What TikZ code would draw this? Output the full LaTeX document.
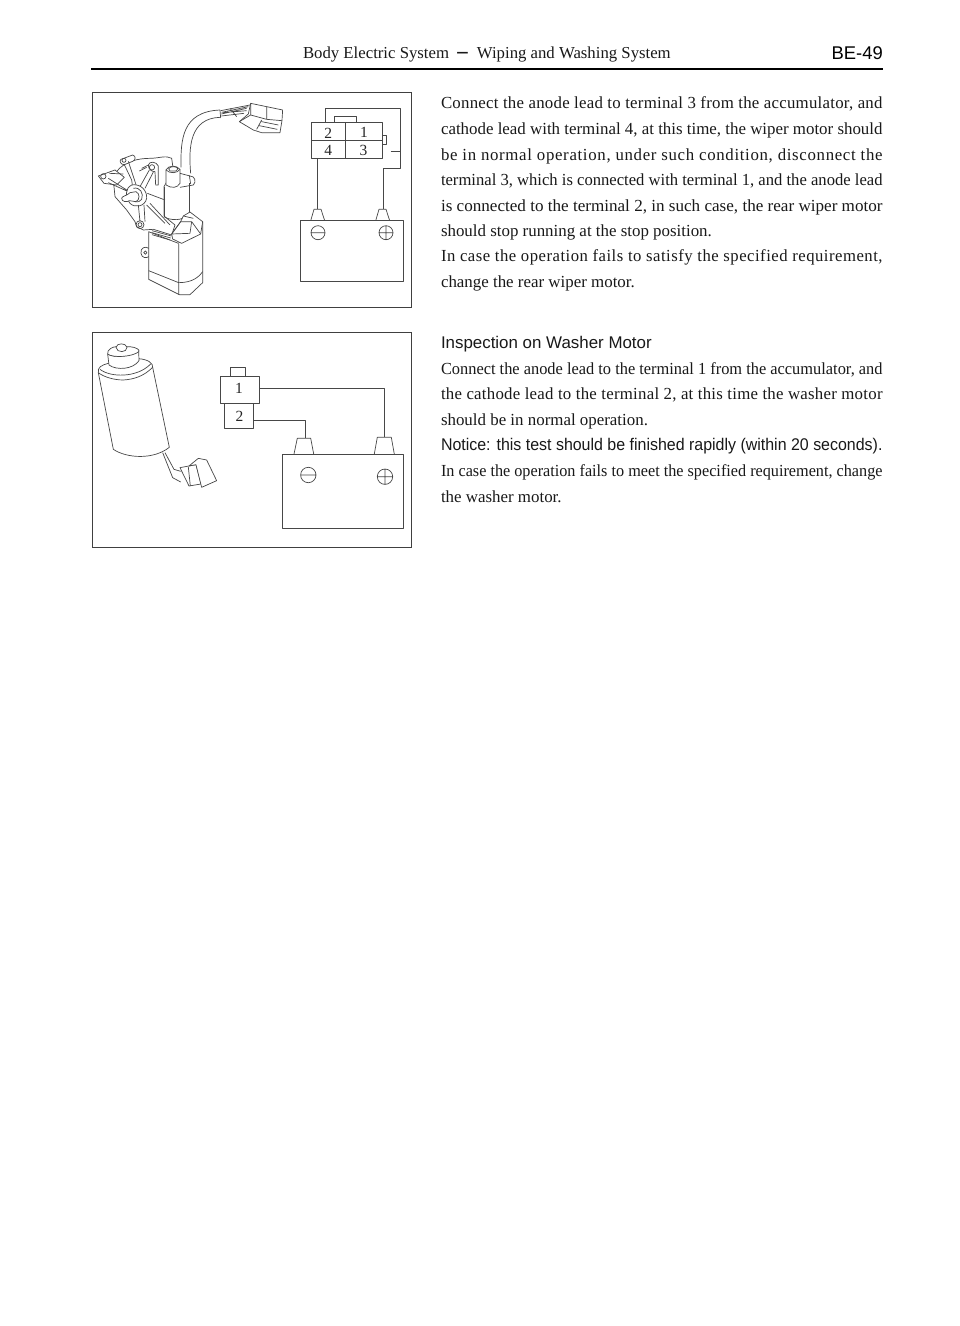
\documentclass[tikz,border=0pt]{standalone}
\usepackage{fontspec}
\usepackage{graphicx}
\setmainfont{Liberation Serif}
\newfontfamily\arial{Liberation Sans}
\tikzset{
 ln/.style={draw=black!72,line width=0.7pt,line join=round},
 wl/.style={ln,fill=white},
 framebox/.style={draw=black!75,line width=1pt},
 tx/.style={anchor=base west,inner sep=0pt,outer sep=0pt,font=\fontsize{16.9}{20}\selectfont,text=black!90},
 hx/.style={tx,font=\arial\fontsize{16.9}{20}\selectfont},
 lab/.style={inner sep=0pt,font=\fontsize{15.5}{18}\selectfont,text=black!85},
}
\newcommand{\jl}[1]{\resizebox{441.5pt}{\height}{#1}}
\newcommand{\ls}[2]{\resizebox{441.5pt}{\height}{\addfontfeature{LetterSpace=#1}#2}}
\begin{document}
\begin{tikzpicture}[x=1pt,y=-1pt]
\useasboundingbox (0,0) rectangle (960,1326);
\fill[white] (0,0) rectangle (960,1326);
% header
\node[tx,font=\fontsize{16.75}{20}\selectfont] (hd) at (303,58.5) {Body Electric System\hspace{7pt}\raisebox{-2pt}{\arial\fontsize{22}{22}\selectfont −}\hspace{8pt}Wiping and Washing System};
\node[anchor=base east,inner sep=0pt,font=\arial\fontsize{18.4}{20}\selectfont] (pg) at (883,59) {BE-49};
\draw[black,line width=1.7pt] (91,69) -- (883,69);
% frames
\node[framebox,minimum width=319pt,minimum height=215pt,inner sep=0pt,anchor=north west] (f1) at (92,92) {};
\node[framebox,minimum width=319pt,minimum height=215pt,inner sep=0pt,anchor=north west] (f2) at (92,332) {};
% text 1
\node[tx] (a1) at (441,108.8) {\ls{1.5}{Connect the anode lead to terminal 3 from the accumulator, and}};
\node[tx] (a2) at (441,134.5) {\jl{cathode lead with terminal 4, at this time, the wiper motor should}};
\node[tx] (a3) at (441,160.1) {\ls{4}{be in normal operation, under such condition, disconnect the}};
\node[tx] (a4) at (441,185.5) {\jl{terminal 3, which is connected with terminal 1, and the anode lead}};
\node[tx] (a5) at (441,211.2) {\jl{is connected to the terminal 2, in such case, the rear wiper motor}};
\node[tx] (a6) at (441,236.3) {should stop running at the stop position.};
\node[tx] (a7) at (441,261.5) {\ls{3}{In case the operation fails to satisfy the specified requirement,}};
\node[tx] (a8) at (441,287.5) {change the rear wiper motor.};
% text 2
\node[hx] (b0) at (441,348.8) {Inspection on Washer Motor};
\node[tx] (b1) at (441,374.5) {\jl{Connect the anode lead to the terminal 1 from the accumulator, and}};
\node[tx] (b2) at (441,399.8) {\ls{1.5}{the cathode lead to the terminal 2, at this time the washer motor}};
\node[tx] (b3) at (441,425.5) {should be in normal operation.};
\node[hx] (b4) at (441,450.5) {\jl{Notice: this test should be finished rapidly (within 20 seconds).}};
\node[tx] (b5) at (441,476.2) {\jl{In case the operation fails to meet the specified requirement, change}};
\node[tx] (b6) at (441,502) {the washer motor.};
% circuit 1
\draw[ln] (311.7,122.3) rectangle (382.7,158.3);
\draw[ln] (345.7,122.3) -- (345.7,158.3) (311.7,140.7) -- (382.7,140.7);
\draw[ln] (334.3,122.3) -- (334.3,116.7) -- (356,116.7) -- (356,122.3);
\draw[ln] (382.7,135) -- (386.7,135) -- (386.7,144.3) -- (382.7,144.3);
\node[lab] (n2) at (328.3,133) {2};
\node[lab] (n1) at (364,132.5) {1};
\node[lab] (n4) at (328.3,150.5) {4};
\node[lab] (n3) at (363.5,150.5) {3};
\coordinate (t1l) at (317.7,209.3); \coordinate (t1r) at (383.7,209.3);
\draw[ln] (325.7,122.3) -- (325.7,108.3) -- (400.7,108.3) -- (400.7,168.3) -- (383.7,168.3) -- (t1r);
\draw[ln] (390.7,151.7) -- (400.7,151.7);
\draw[ln] (317.7,158.3) -- (t1l);
\draw[ln] (300.7,220.7) rectangle (403,281);
\draw[ln] (310.7,220.7) -- (314,209.3) -- (321,209.3) -- (324.7,220.7);
\draw[ln] (375.7,220.7) -- (379,209.3) -- (386,209.3) -- (389.7,220.7);
\draw[ln] (318,232.7) circle (7) (311,232.7) -- (325,232.7);
\draw[ln] (386,232.7) circle (7) (379,232.7) -- (393,232.7) (386,225.7) -- (386,239.7);
% circuit 2
\draw[ln] (220,376.3) rectangle (259.7,403.3);
\draw[ln] (224.7,403.3) rectangle (253.7,428.7);
\draw[ln] (230.7,376.3) -- (230.7,367.3) -- (245.7,367.3) -- (245.7,376.3);
\node[lab] (m1) at (239,388.5) {1};
\node[lab] (m2) at (239.5,416) {2};
\draw[ln] (259.7,388.3) -- (384.7,388.3) -- (384.7,437.3);
\draw[ln] (253.7,420.3) -- (305.3,420.3) -- (305.3,438.3);
\draw[ln] (282.7,454) rectangle (403.7,528);
\draw[ln] (294,454) -- (297.3,438.3) -- (310.7,438.3) -- (313.7,454);
\draw[ln] (374.3,454) -- (377.3,437.3) -- (391.3,437.3) -- (394.3,454);
\draw[ln] (308.3,475) circle (7.7) (300.6,475) -- (316,475);
\draw[ln] (385,476.7) circle (7.7) (377.3,476.7) -- (392.7,476.7) (385,469) -- (385,484.4);
% washer motor, in crop coordinates
\begin{scope}[shift={(90,330)},x=0.3333pt,y=-0.3333pt]
\draw[wl] (25,128) -- (70,358) .. controls (110,385) and (190,390) .. (238,352) -- (188,112);
\draw[wl] (25,128) .. controls (22,112) and (35,105) .. (55,100) -- (145,86) .. controls (175,88) and (190,100) .. (188,112) .. controls (160,140) and (130,148) .. (100,150) .. controls (70,150) and (40,140) .. (25,128) -- cycle;
\draw[ln] (30,118) .. controls (60,142) and (140,145) .. (182,102);
\draw[wl] (53,72) -- (57,105) .. controls (80,122) and (130,118) .. (147,92) -- (146,60) .. controls (125,80) and (70,85) .. (53,72) -- cycle;
\draw[wl] (53,72) .. controls (50,58) and (70,50) .. (78,50) -- (120,50) .. controls (140,52) and (150,60) .. (146,65) .. controls (130,80) and (70,85) .. (53,72) -- cycle;
\draw[wl] (78,52) .. controls (80,38) and (108,38) .. (111,52) .. controls (112,68) and (80,70) .. (78,52) -- cycle;
\draw[ln] (218,368) -- (248,443) -- (272,456);
\draw[ln] (225,368) -- (252,418) -- (272,424);
\draw[wl] (270,413) -- (297,468) -- (333,462) -- (318,404) -- cycle;
\draw[wl] (297,408) -- (325,385) -- (350,390) -- (380,452) -- (335,472) -- (318,404) -- cycle;
\draw[ln] (295,411) -- (301,468);
\end{scope}
% wiper motor, in crop coordinates
\begin{scope}[shift={(90,90)},x=0.3333pt,y=-0.3333pt]
% cable
\draw[ln] (273,232) .. controls (272,150) and (275,65) .. (390,60);
\draw[ln] (302,250) .. controls (295,170) and (300,85) .. (390,82);
\draw[ln] (390,60) -- (392,84);
\draw[ln] (392,62) -- (480,45) (394,72) -- (470,55) (394,78) -- (462,70) (400,68) -- (470,62) (420,55) -- (440,80) (395,67) -- (475,50);
% plug
\draw[wl] (482,40) -- (578,60) -- (576,92) -- (570,128) -- (515,128) -- (490,120) -- (448,95) -- (475,72) -- cycle;
\draw[ln] (530,50) -- (530,88) -- (576,92) (482,40) -- (482,75) -- (530,88) (482,75) -- (448,95) (515,90) -- (500,118) (515,95) -- (565,105) (508,107) -- (562,118);
% lower body
\draw[wl] (176,425) -- (176,568) -- (268,614) -- (300,614) -- (338,578) -- (338,395) -- (265,460) -- cycle;
\draw[ln] (176,542) -- (266,578) (266,578) .. controls (290,578) and (320,572) .. (338,545) (266,462) -- (266,614);
\draw[ln] (176,475) .. controls (168,468) and (150,472) .. (153,490) .. controls (155,505) and (170,505) .. (176,500);
\draw[ln] (166,488) circle (5);
% gearbox
\draw[wl] (72,290) .. controls (60,250) and (100,205) .. (180,205) .. controls (205,205) and (230,195) .. (245,205) -- (250,240) -- (222,290) -- (222,378) -- (255,405) -- (245,435) -- (190,418) -- (160,420) -- (140,410) -- (135,395) -- (110,360) -- (75,320) -- cycle;
\draw[wl] (25,258) -- (75,240) -- (103,262) -- (80,285) -- (42,280) -- cycle;
\draw[ln] (40,259) circle (8);
\draw[ln] (55,265) -- (118,305) (55,278) -- (115,305) (58,250) -- (100,252);
\draw[wl] (93,208) -- (128,195) .. controls (138,198) and (138,210) .. (128,214) -- (103,224) .. controls (90,224) and (88,212) .. (93,208) -- cycle;
\draw[ln] (102,211) circle (6);
\draw[ln] (103,224) -- (125,270) -- (128,292) (115,214) -- (140,290);
\draw[wl] (175,225) .. controls (178,212) and (200,215) .. (205,228) -- (205,285) -- (197,285) -- (195,245) .. controls (185,245) and (175,238) .. (175,225) -- cycle;
\draw[ln] (186,232) circle (8);
\draw[ln] (178,240) -- (150,290) (190,246) -- (165,295);
\draw[ln] (155,235) -- (175,225) (148,243) -- (170,232);
% hub
\draw[wl] (125,285) .. controls (150,280) and (172,300) .. (170,325) .. controls (165,350) and (135,355) .. (120,340) .. controls (105,320) and (105,295) .. (125,285) -- cycle;
\draw[ln] (130,295) .. controls (150,290) and (162,310) .. (155,328) .. controls (145,342) and (128,335) .. (122,325);
\draw[wl] (95,325) .. controls (96,318) and (110,318) .. (120,308) -- (138,305) .. controls (150,310) and (150,330) .. (138,335) -- (118,332) .. controls (110,338) and (95,335) .. (95,325) -- cycle;
\draw[ln] (172,310) -- (225,330) (170,345) -- (225,400) (180,340) -- (240,405) (145,345) -- (150,395) (162,345) -- (165,395);
% lower mount
\draw[ln] (150,404) circle (12);
\draw[ln] (150,404) circle (6);
% column
\draw[wl] (222,290) -- (222,380) (298,280) -- (298,370);
\draw[ln] (222,380) .. controls (240,392) and (280,395) .. (298,370);
\draw[wl] (228,240) -- (228,285) .. controls (245,296) and (262,294) .. (270,280) -- (270,238) .. controls (260,225) and (235,225) .. (228,240) -- cycle;
\draw[ln] (228,240) .. controls (240,252) and (262,250) .. (270,238);
\draw[ln] (236,236) .. controls (242,228) and (258,228) .. (264,236) -- (258,243) -- (240,243) -- cycle;
\draw[ln] (270,250) -- (300,258) .. controls (315,258) and (320,275) .. (310,285) -- (270,292);
\draw[ln] (298,256) -- (302,282);
% fins and cover
\draw[wl] (245,432) -- (272,395) -- (280,378) -- (300,366) -- (338,395) -- (332,432) -- (275,460) -- (248,447) -- cycle;
\draw[ln] (272,395) -- (305,395) -- (332,432) (272,395) -- (245,432) -- (300,430) -- (305,395);
\draw[ln] (280,378) -- (310,385);
\draw[ln] (186,422) -- (244,438) (186,428) -- (242,444) (186,434) -- (240,450);
\end{scope}
\end{tikzpicture}
\end{document}
